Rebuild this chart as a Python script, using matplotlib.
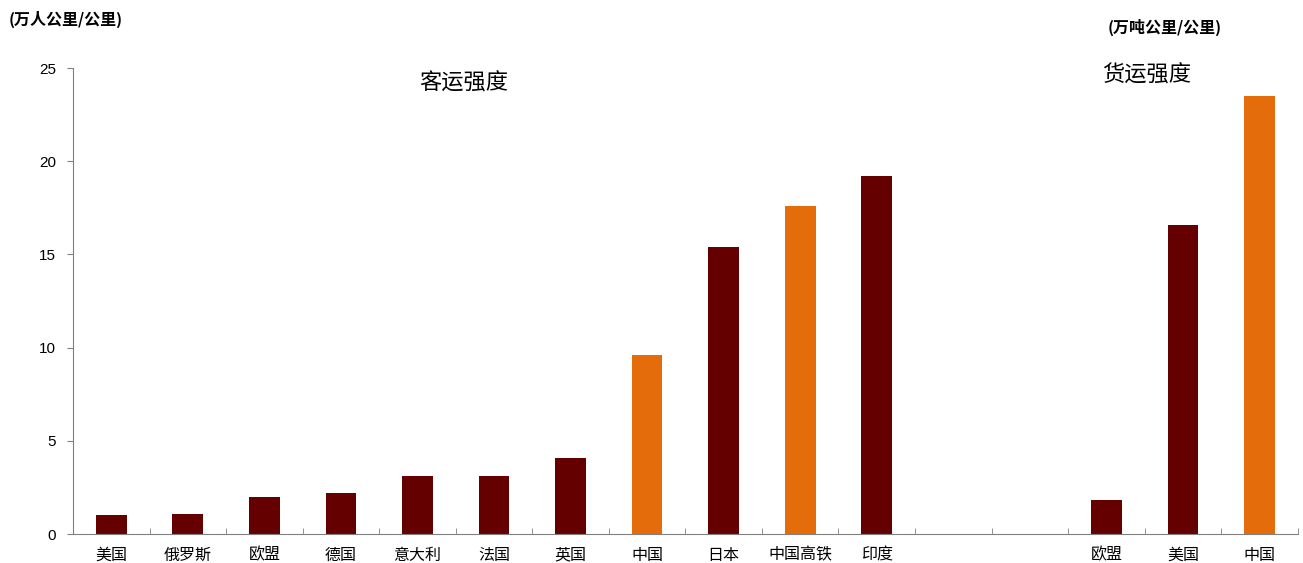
import matplotlib
matplotlib.use("Agg")
import matplotlib.pyplot as plt
import numpy as np

plt.rcParams['font.family'] = ['Noto Sans CJK SC', 'DejaVu Sans']

# 客运强度 / 货运强度 数据
categories = ['美国', '俄罗斯', '欧盟', '德国', '意大利', '法国', '英国', '中国',
              '日本', '中国高铁', '印度', '', '', '欧盟', '美国', '中国']
values = [1.0, 1.1, 2.0, 2.2, 3.1, 3.1, 4.1, 9.6,
          15.4, 17.6, 19.2, None, None, 1.8, 16.6, 23.5]
highlight = [False, False, False, False, False, False, False, True,
             False, True, False, False, False, False, False, True]

dark_red = '#640000'
orange = '#E46C0A'

fig = plt.figure(figsize=(13.03, 5.63), dpi=100)
ax = fig.add_axes([0.056, 0.0515, 0.94, 0.8275])

x = np.arange(len(categories))
for i, v in enumerate(values):
    if v is None:
        continue
    ax.bar(x[i], v, width=0.4, color=orange if highlight[i] else dark_red, zorder=2)

ax.set_xlim(-0.5, len(categories) - 0.5)
ax.set_ylim(0, 25)
ax.set_yticks([0, 5, 10, 15, 20, 25])

ax.set_xticks(x)
ax.set_xticklabels(categories, fontsize=11.5)
ax.set_xticks(np.arange(len(categories)) + 0.5, minor=True)
ax.tick_params(axis='x', which='major', length=0, pad=9)
ax.tick_params(axis='x', which='minor', direction='in', length=4, color='#808080')
ax.tick_params(axis='y', direction='out', length=4, color='#808080', pad=8)
for lab in ax.get_yticklabels():
    lab.set_fontfamily('Liberation Sans')
    lab.set_fontsize(11)

for s in ['top', 'right']:
    ax.spines[s].set_visible(False)
for s in ['left', 'bottom']:
    ax.spines[s].set_color('#808080')

ax.text(4.6, 24.2, '客运强度', fontsize=16, ha='center', va='center')
ax.text(13.52, 24.6, '货运强度', fontsize=16, ha='center', va='center')

fig.text(0.007, 0.965, '(万人公里/公里)', fontsize=11.5, fontweight='bold', ha='left', va='center')
fig.text(0.85, 0.952, '(万吨公里/公里)', fontsize=11.5, fontweight='bold', ha='left', va='center')

fig.savefig('out.png', dpi=100)
